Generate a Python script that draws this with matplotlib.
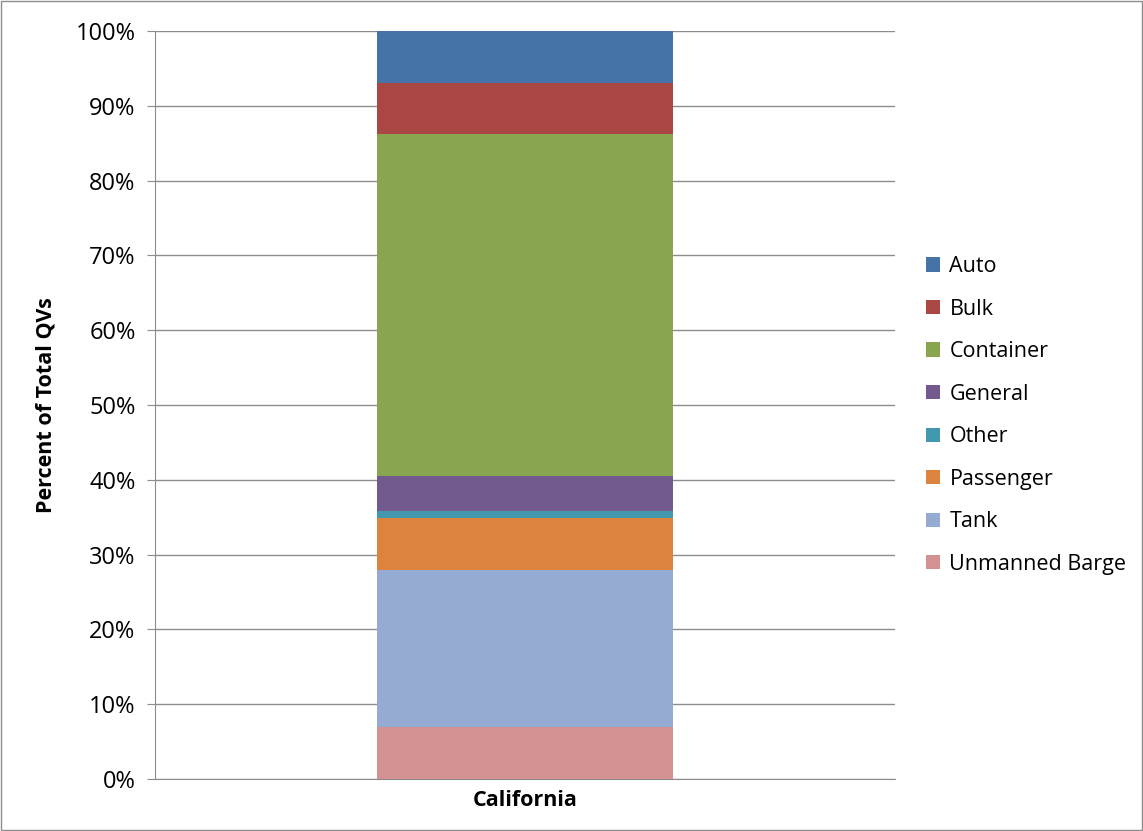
import matplotlib.pyplot as plt
from matplotlib.patches import Rectangle

# Share of quality vessels (QVs) by vessel type, bottom to top of the stack
region = ['California']
vessel_types = ['Unmanned Barge', 'Tank', 'Passenger', 'Other',
                'General', 'Container', 'Bulk', 'Auto']
shares = [6.9, 21.05, 6.95, 0.9, 4.65, 45.8, 6.8, 6.95]
colors = ['#D49191', '#95ABD3', '#DC843E', '#4198AF',
          '#725A8F', '#89A54E', '#AA4744', '#4572A7']
ytick_vals = [0, 10, 20, 30, 40, 50, 60, 70, 80, 90, 100]

plt.rcParams['font.family'] = ['Open Sans', 'DejaVu Sans']

fig = plt.figure(figsize=(11.43, 8.31), dpi=100)
ax = fig.add_axes([0.1356, 0.0626, 0.6474, 0.9001])

bottom = 0
handles = []
for name, val, col in zip(vessel_types, shares, colors):
    b = ax.bar(region, [val], bottom=bottom, width=0.4, color=col,
               label=name, zorder=3)
    handles.append(b)
    bottom += val

ax.set_xlim(-0.5, 0.5)
ax.set_ylim(0, 100)
ax.set_yticks(ytick_vals)
ax.set_yticklabels([f'{v}%' for v in ytick_vals], fontsize=17)
ax.grid(axis='y', color='#8c8c8c', linewidth=1, zorder=0)
ax.tick_params(axis='y', length=6, color='#8c8c8c', pad=8)
ax.tick_params(axis='x', length=0, pad=8)
for lbl in ax.get_xticklabels():
    lbl.set_fontsize(15.5)
    lbl.set_fontweight('bold')
for s in ['top', 'right']:
    ax.spines[s].set_visible(False)
ax.spines['left'].set_color('#8c8c8c')
ax.spines['bottom'].set_color('#8c8c8c')
ax.set_ylabel('Percent of Total QVs', fontsize=15.5, fontweight='bold',
              labelpad=14)

fig.legend(handles[::-1], vessel_types[::-1], loc='center left',
           bbox_to_anchor=(0.793, 0.5), frameon=False, fontsize=15.5,
           handlelength=0.65, handleheight=0.65, labelspacing=1.0,
           handletextpad=0.45)

fig.patches.append(Rectangle((0.001, 0.001), 0.998, 0.998, transform=fig.transFigure,
                             fill=False, edgecolor='#8c8c8c', linewidth=1))

fig.savefig('out.png', dpi=100)
